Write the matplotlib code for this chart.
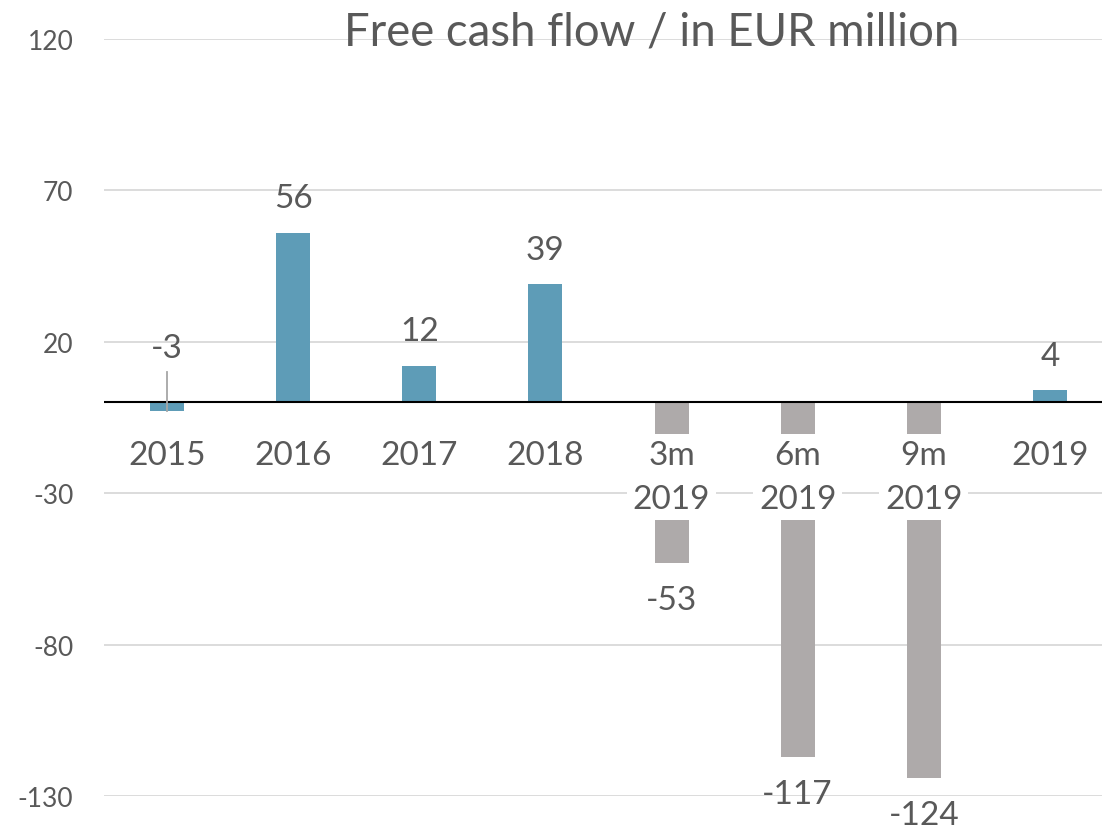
import matplotlib
matplotlib.use("Agg")
import matplotlib.pyplot as plt
from matplotlib.transforms import offset_copy

categories = ["2015", "2016", "2017", "2018", "3m\n2019", "6m\n2019", "9m\n2019", "2019"]
values = [-3, 56, 12, 39, -53, -117, -124, 4]
is_quarterly = [False, False, False, False, True, True, True, False]
yticks = [120, 70, 20, -30, -80, -130]
title = "Free cash flow / in EUR million"

BLUE = "#5E9CB7"
GREY = "#AEAAAA"
TEXT = "#595959"
GRID = "#D9D9D9"
FONT = ["Lato", "DejaVu Sans"]

fig = plt.figure(figsize=(11.02, 8.29), dpi=100)
ax = fig.add_axes([104 / 1102, 32 / 829, 1009 / 1102, 757 / 829])

x = list(range(len(categories)))
colors = [GREY if q else BLUE for q in is_quarterly]
ax.bar(x, values, width=0.27, color=colors, zorder=2)

ax.set_xlim(-0.5, len(categories) - 0.5)
ax.set_ylim(-130, 120)
ax.set_yticks(yticks)
ax.set_yticklabels([str(t) for t in yticks], fontsize=19, color=TEXT, family=FONT)
ax.tick_params(axis="y", length=0, pad=22)
ax.set_xticks([])
ax.grid(axis="y", color=GRID, linewidth=1.3, zorder=0)
ax.set_axisbelow(True)
for s in ax.spines.values():
    s.set_visible(False)
ax.axhline(0, color="black", linewidth=1.5, zorder=3)

# category labels just below the zero line with white boxes
for xi, cat in zip(x, categories):
    tr = offset_copy(ax.transData, fig=fig, x=0, y=-27, units="points")
    ax.text(xi, 0, cat, transform=tr, ha="center", va="top", fontsize=24,
            color=TEXT, family=FONT, linespacing=1.6, zorder=4,
            bbox=dict(facecolor="white", edgecolor="none", pad=4))

# data labels
for xi, v in zip(x, values):
    if xi == 0:
        ax.plot([xi, xi], [v, 10], color="#A6A6A6", linewidth=1.3, zorder=4)
        ax.text(xi, 18, str(v), ha="center", va="center", fontsize=24,
                color=TEXT, family=FONT, zorder=5)
    elif v >= 0:
        tr = offset_copy(ax.transData, fig=fig, x=0, y=25, units="points")
        ax.text(xi, v, str(v), transform=tr, ha="center", va="center",
                fontsize=24, color=TEXT, family=FONT, zorder=5)
    else:
        tr = offset_copy(ax.transData, fig=fig, x=0, y=-27, units="points")
        ax.text(xi, v, str(v), transform=tr, ha="center", va="center",
                fontsize=24, color=TEXT, family=FONT, zorder=5)

fig.text(652 / 1102, 1 - 33 / 829, title, ha="center", va="center",
         fontsize=32.8, color=TEXT, family=FONT)

fig.savefig("out.png", dpi=100)
